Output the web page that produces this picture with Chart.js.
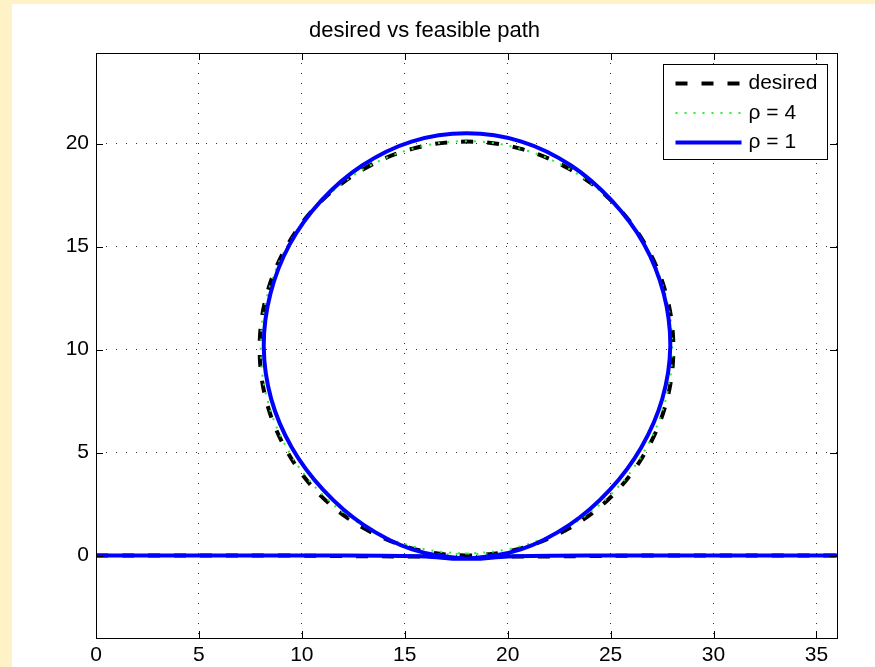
<!DOCTYPE html>
<html>
<head>
<meta charset="utf-8">
<script src="https://cdn.jsdelivr.net/npm/chart.js@4.4.1/dist/chart.umd.min.js"></script>
<style>
    html, body { margin: 0; padding: 0; background: #fff2c6; overflow: hidden; }
    #wrap { position: absolute; left: 12px; top: 4px; width: 863px; height: 663px; background: #ffffff; }
</style>
</head>
<body>
<div id="wrap"><canvas id="pathChart" width="863" height="663"></canvas></div>
<script>
// tick labels
var xTicks = [0, 5, 10, 15, 20, 25, 30, 35];
var yTicks = [0, 5, 10, 15, 20];

// desired path: straight line with a loop of radius ~10 around (18, 10)
var desiredX = [0, 9, 18.00, 20.60, 23.03, 25.11, 26.70, 27.71, 28.05, 27.71, 26.70, 25.11, 23.03, 20.60, 18.00,
    15.40, 12.98, 10.89, 9.30, 8.29, 7.95, 8.29, 9.30, 10.89, 12.98, 15.40, 18.00, 27, 36];
var desiredY = [0, 0, 0.00, 0.34, 1.35, 2.94, 5.03, 7.45, 10.05, 12.65, 15.08, 17.16, 18.75, 19.76, 20.10,
    19.76, 18.75, 17.16, 15.08, 12.65, 10.05, 7.45, 5.03, 2.94, 1.35, 0.34, 0.00, 0, 0];

// feasible path, rho = 4
var rho4X = [0, 9, 18.00, 20.59, 23.00, 25.07, 26.66, 27.66, 28.00, 27.66, 26.66, 25.07, 23.00, 20.59, 18.00,
    15.41, 13.00, 10.93, 9.34, 8.34, 8.00, 8.34, 9.34, 10.93, 13.00, 15.41, 18.00, 27, 36];
var rho4Y = [0, 0, 0.10, 0.44, 1.44, 3.03, 5.10, 7.51, 10.10, 12.69, 15.10, 17.17, 18.76, 19.76, 20.12,
    19.76, 18.76, 17.17, 15.10, 12.69, 10.10, 7.51, 5.10, 3.03, 1.44, 0.44, 0.10, 0, 0];

// feasible path, rho = 1
var rho1X = [0, 12, 16.0, 18.00, 20.64, 23.00, 24.96, 26.49, 27.51, 27.90, 27.58, 26.62, 25.07, 23.08, 20.67, 18.00,
    15.33, 12.93, 10.93, 9.41, 8.47, 8.15, 8.51, 9.51, 11.04, 13.00, 15.36, 18.00, 20.0, 24, 36];
var rho1Y = [0, 0, -0.04, -0.15, 0.30, 1.49, 3.19, 5.25, 7.60, 10.15, 12.72, 15.13, 17.22, 18.94, 20.10, 20.50,
    20.10, 18.94, 17.22, 15.11, 12.70, 10.15, 7.61, 5.25, 3.19, 1.49, 0.30, -0.15, -0.04, 0, 0];

var seriesNames = ["desired", "\u03c1 = 4", "\u03c1 = 1"];

function toPoints(xs, ys) {
    return xs.map(function (x, i) { return { x: x, y: ys[i] }; });
}

Chart.defaults.font.family = "'Liberation Sans', Arial, Helvetica, sans-serif";
Chart.defaults.font.size = 21;
Chart.defaults.color = "#000";

// axes box, inward ticks and a matlab style legend inside the plot
var framePlugin = {
    id: "frame",
    afterDraw: function (chart) {
        var ctx = chart.ctx, a = chart.chartArea;
        var xs = chart.scales.x, ys = chart.scales.y;
        ctx.save();
        ctx.strokeStyle = "#000";
        ctx.lineWidth = 1;
        ctx.strokeRect(a.left + 0.5, a.top + 0.5, a.right - a.left, a.bottom - a.top);
        var tl = 7;
        ctx.beginPath();
        xTicks.forEach(function (v) {
            var px = Math.round(xs.getPixelForValue(v)) + 0.5;
            ctx.moveTo(px, a.bottom); ctx.lineTo(px, a.bottom - tl);
            ctx.moveTo(px, a.top); ctx.lineTo(px, a.top + tl);
        });
        yTicks.forEach(function (v) {
            var py = Math.round(ys.getPixelForValue(v)) + 0.5;
            ctx.moveTo(a.left, py); ctx.lineTo(a.left + tl, py);
            ctx.moveTo(a.right, py); ctx.lineTo(a.right - tl, py);
        });
        ctx.stroke();

        // legend
        var bw = 164, bh = 95;
        var bx = Math.round(a.right - 10 - bw) + 0.5, by = Math.round(a.top + 11) + 0.5;
        ctx.fillStyle = "#fff";
        ctx.fillRect(bx, by, bw, bh);
        ctx.strokeRect(bx, by, bw, bh);
        ctx.font = "21px 'Liberation Sans', Arial, sans-serif";
        ctx.textBaseline = "middle";
        chart.data.datasets.forEach(function (ds, i) {
            var ry = by + 19 + i * 29.5;
            ctx.save();
            ctx.strokeStyle = ds.borderColor;
            ctx.lineWidth = ds.borderWidth;
            ctx.setLineDash(ds.borderDash || []);
            ctx.beginPath();
            ctx.moveTo(bx + 12, ry);
            ctx.lineTo(bx + 78, ry);
            ctx.stroke();
            ctx.restore();
            ctx.fillStyle = "#000";
            ctx.fillText(seriesNames[i], bx + 85, ry);
        });
        ctx.restore();
    }
};

var ctx = document.getElementById("pathChart").getContext("2d");
new Chart(ctx, {
    type: "scatter",
    data: {
        datasets: [{
            label: seriesNames[0],
            data: toPoints(desiredX, desiredY),
            showLine: true,
            borderColor: "#000",
            borderWidth: 4,
            borderDash: [12, 14],
            pointRadius: 0,
            tension: 0.35,
            order: 3
        }, {
            label: seriesNames[1],
            data: toPoints(rho4X, rho4Y),
            showLine: true,
            borderColor: "#2cef2c",
            borderWidth: 2,
            borderDash: [2, 7],
            pointRadius: 0,
            tension: 0.35,
            order: 2
        }, {
            label: seriesNames[2],
            data: toPoints(rho1X, rho1Y),
            showLine: true,
            borderColor: "#0000ff",
            borderWidth: 4,
            pointRadius: 0,
            tension: 0.35,
            order: 1
        }]
    },
    options: {
        responsive: false,
        animation: false,
        layout: { padding: { left: 0, right: 38, top: 0, bottom: 0 } },
        plugins: {
            legend: { display: false },
            tooltip: { enabled: false },
            title: {
                display: true,
                text: "desired vs feasible path",
                font: { size: 22, weight: "normal" },
                color: "#000",
                padding: { top: 14, bottom: 8.6 }
            }
        },
        scales: {
            x: {
                type: "linear",
                min: 0,
                max: 36,
                afterBuildTicks: function (s) { s.ticks = xTicks.map(function (v) { return { value: v }; }); },
                afterFit: function (s) { s.height = 29; },
                ticks: { padding: 5, maxRotation: 0, autoSkip: false, color: "#000" },
                grid: { color: "rgba(0,0,0,0.8)", lineWidth: 1, drawTicks: false },
                border: { display: false, dash: [1, 9] }
            },
            y: {
                type: "linear",
                min: -4,
                max: 24.4,
                afterBuildTicks: function (s) { s.ticks = yTicks.map(function (v) { return { value: v }; }); },
                afterFit: function (s) { s.width = 84; },
                ticks: { padding: 7, autoSkip: false, color: "#000" },
                grid: { color: "rgba(0,0,0,0.8)", lineWidth: 1, drawTicks: false },
                border: { display: false, dash: [1, 9] }
            }
        }
    },
    plugins: [framePlugin]
});
</script>
</body>
</html>
